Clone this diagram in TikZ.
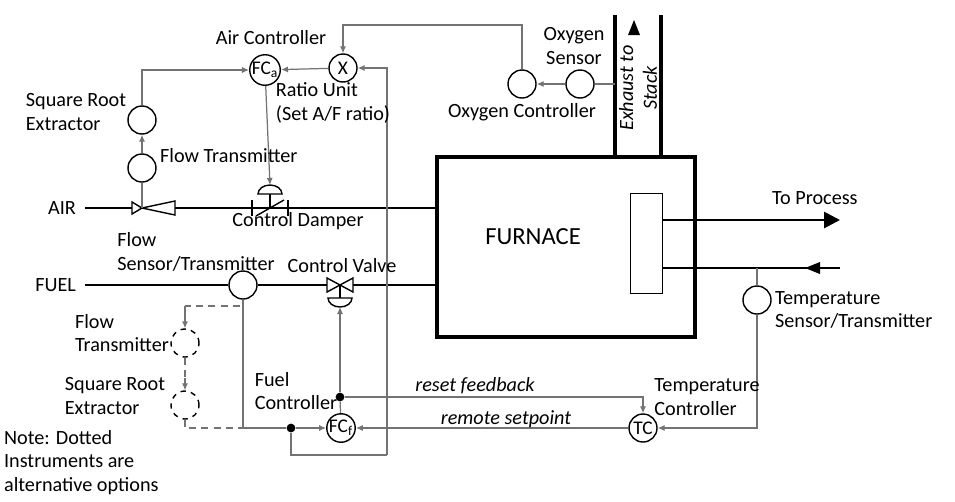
\documentclass[tikz,border=0pt]{standalone}
\usepackage{fontspec}
\setmainfont{Carlito}
\usetikzlibrary{arrows.meta}
\begin{document}
\begin{tikzpicture}[x=0.02cm,y=-0.02cm,
  inst/.style={circle,draw,thick,minimum size=28*0.02cm,inner sep=0pt,font=\fontsize{11}{11}\selectfont},
  dinst/.style={circle,draw,thick,dashed,minimum size=28*0.02cm,inner sep=0pt},
  sig/.style={draw=black!55,line width=0.7pt},
  dsig/.style={draw=black!55,line width=0.8pt,dash pattern=on 4pt off 3pt},
  proc/.style={line width=1.6pt},
  lab/.style={font=\fontsize{11.5}{13.5}\selectfont,inner sep=1pt,align=left},
  ar/.style={-{Latex[length=4pt,width=3.5pt]}},
  dot/.style={circle,fill,inner sep=0pt,minimum size=5pt}]
\useasboundingbox (0,0) rectangle (955,501);
% furnace
\node[draw,line width=2pt,minimum width=258*0.02cm,minimum height=180*0.02cm,anchor=north west] (furn) at (435,155) {};
\node[font=\fontsize{14}{14}\selectfont] (ft) at (533,237) {FURNACE};
\node[draw,thick,minimum width=32*0.02cm,minimum height=100*0.02cm,anchor=north west] (hx) at (630,193) {};
% process lines
\coordinate (tp) at (840,220); \coordinate (rp) at (840,268);
\draw[proc,-{Triangle[length=9pt,width=9pt]}] (662,220) -- (tp);
\draw[proc] (rp) -- (662,268);
\fill (805,268) -- (820,262) -- (820,274) -- cycle;
\node[lab,anchor=west] (ltp) at (770,198) {To Process};
% stack
\draw[line width=1.8pt] (615,155) -- (615,15);
\draw[line width=1.8pt] (661,155) -- (661,15);
\fill (628,35) -- (640,35) -- (634,20) -- cycle;
\node[lab,rotate=90,align=center,font=\fontsize{11.5}{13.5}\selectfont\itshape] (stk) at (638,88) {Exhaust to\\Stack};
% air line
\coordinate (airs) at (85,208);
\draw[proc] (airs) -- (435,208);
\node[lab,anchor=east] (lair) at (78,208) {AIR};
\draw[thick,fill=white] (132,202) -- (132,214) -- (142,208) -- cycle;
\draw[thick,fill=white] (142,208) -- (175,201) -- (175,215) -- cycle;
\draw[thick] (252,200)--(252,216); \draw[thick] (288,200)--(288,216);
\draw[thick,fill=white] (256,216) -- (284,200);
\draw[thick] (270,208) -- (270,194);
\draw[thick,fill=white] (258,194) arc (180:360:12 and 9) -- cycle;
% fuel line
\coordinate (fuels) at (85,285);
\node[lab,anchor=east] (lfuel) at (78,285) {FUEL};
\node[inst] (fst) at (243,285) {};
\draw[proc] (fuels) -- (fst) -- (435,285);
\draw[thick,fill=white] (327,278) -- (340,285) -- (327,292) -- cycle;
\draw[thick,fill=white] (353,278) -- (340,285) -- (353,292) -- cycle;
\draw[thick] (340,285) -- (340,298);
\draw[thick,fill=white] (328,298) arc (180:0:12 and 9) -- cycle;
% air instruments
\node[inst] (aft) at (142,168) {};
\node[inst] (asr) at (142,120) {};
\node[inst] (fca) at (265,70) {FC\textsubscript{a}};
\node[inst] (rx) at (343,68) {X};
\node[inst] (oc) at (522,84) {};
\node[inst] (os) at (580,84) {};
\draw[sig] (142,208) -- (aft);
\draw[sig,ar] (aft) -- (asr);
\draw[sig,ar] (asr) |- (fca);
\draw[sig,ar] (fca) -- (270,185);
\draw[sig,ar] (rx) -- (fca);
\draw[sig,ar] (387,455) -- (387,68) -- (rx);
\draw[sig,ar] (615,84) -- (os) -- (oc);
\draw[sig,ar] (oc) |- (343,25) -- (rx);
% fuel instruments
\node[inst] (fcf) at (341,428) {FC\textsubscript{f}};
\node[inst] (tc) at (643,428) {TC};
\node[inst] (tst) at (757,300) {};
\node[dot] (d1) at (340,397) {};
\node[dot] (d2) at (291,428) {};
\draw[sig,ar] (d1) -- (340,307);
\draw[sig] (fcf) -- (d1);
\draw[sig,ar] (d1) -- (643,397) -- (tc);
\draw[sig,ar] (tc) -- (fcf);
\draw[sig,ar] (757,268) -- (tst) |- (tc);
\draw[sig] (fst) -- (243,428) -- (d2);
\draw[sig,ar] (d2) -- (fcf);
\draw[sig] (d2) -- (291,455) -- (387,455);
\node[dinst] (dft) at (185,343) {};
\node[dinst] (dsr) at (185,405) {};
\draw[dsig] (240,306) -- (185,306);
\draw[sig,ar] (185,306) -- (dft);
\draw[dsig] (dft) -- (185,380);
\draw[sig,ar] (185,378) -- (dsr);
\draw[dsig] (dsr) -- (185,428) -- (243,428);
% labels
\node[lab] (l1) at (271,38) {Air Controller};
\node[lab] (l2) at (333,103) {Ratio Unit\\(Set A/F ratio)};
\node[lab] (l3) at (76,112) {Square Root\\Extractor};
\node[lab,anchor=west] (l4) at (158,156) {Flow Transmitter};
\node[lab] (l5) at (298,221) {Control Damper};
\node[lab,align=left] (l6) at (196,252) {Flow\\Sensor/Transmitter};
\node[lab] (l7) at (342,266) {Control Valve};
\node[lab,align=center] (l8) at (574,46) {Oxygen\\Sensor};
\node[lab] (l9) at (522,112) {Oxygen Controller};
\node[lab] (l10) at (122,333) {Flow\\Transmitter};
\node[lab] (l11) at (115,396) {Square Root\\Extractor};
\node[lab] (l12) at (296,391) {Fuel\\Controller};
\node[lab,font=\fontsize{11.5}{13.5}\selectfont\itshape] (l13) at (475,386) {reset feedback};
\node[lab,font=\fontsize{11.5}{13.5}\selectfont\itshape] (l14) at (506,419) {remote setpoint};
\node[lab] (l15) at (707,397) {Temperature\\Controller};
\node[lab,anchor=west] (l16) at (773,310) {Temperature\\Sensor/Transmitter};
\node[lab,anchor=north west] (l17) at (2,428) {Note: Dotted\\Instruments are\\alternative options};
\end{tikzpicture}
\end{document}
